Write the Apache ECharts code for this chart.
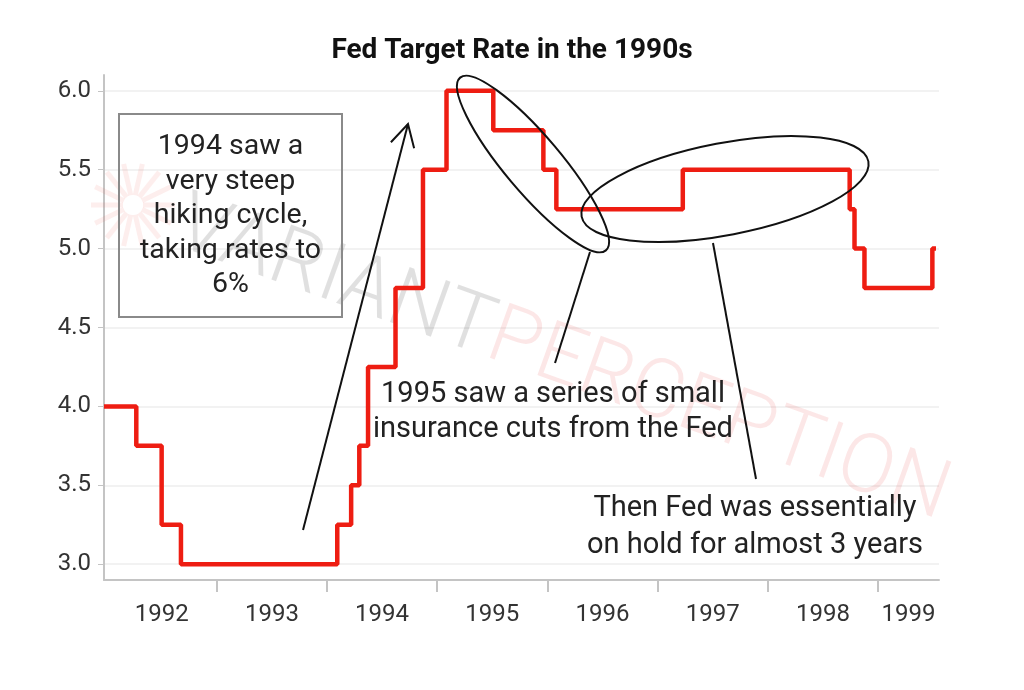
<!DOCTYPE html>
<html>
<head>
<meta charset="utf-8">
<script src="https://cdn.jsdelivr.net/npm/echarts@6/dist/echarts.min.js"></script>
<style>html,body{margin:0;padding:0;background:#fff}#c{width:1024px;height:690px}</style>
</head>
<body>
<div id="c"></div>
<script>
// ---- data ----
const changeDates = ['1991-12-24','1992-04-09','1992-07-02','1992-09-04','1994-02-04','1994-03-22','1994-04-18','1994-05-17','1994-08-16','1994-11-15','1995-02-01','1995-07-06','1995-12-19','1996-01-31','1997-03-25','1998-09-29','1998-10-15','1998-11-17','1999-06-30','1999-07-12'];
const targetRates = [4.0,3.75,3.25,3.0,3.25,3.5,3.75,4.25,4.75,5.5,6.0,5.75,5.5,5.25,5.5,5.25,5.0,4.75,5.0,5.0];
const yearLabels = ['1992','1993','1994','1995','1996','1997','1998','1999'];
const yTicks = [3.0,3.5,4.0,4.5,5.0,5.5,6.0];
const xMin = '1991-12-24', xMax = '1999-07-22';

const FONT = 'Roboto, "Noto Sans", sans-serif';
const t = s => { const p = s.split('-').map(Number); return Date.UTC(p[0], p[1]-1, p[2]); };
const yearTicks = yearLabels.slice(1).map(y => Date.UTC(+y,0,1));
const labelPos = yearLabels.map(y => {
  const a = Math.max(Date.UTC(+y,0,1), t(xMin));
  const b = Math.min(Date.UTC(+y+1,0,1), t(xMax));
  return (a + b) / 2;
});

const chart = echarts.init(document.getElementById('c'), null, {renderer: 'canvas'});

// arrow head
const tip = [408,124], tail = [303,530];
const ang = Math.atan2(tail[1]-tip[1], tail[0]-tip[0]);
const wing = d => [tip[0] + 25*Math.cos(ang+d), tip[1] + 25*Math.sin(ang+d)];

// watermark sunburst rays
const rays = [];
for (let i = 0; i < 14; i++) {
  const a = i * Math.PI / 7;
  rays.push({type:'line', z:1, silent:true,
    shape:{x1:133+10*Math.cos(a), y1:205+10*Math.sin(a), x2:133+42*Math.cos(a), y2:205+42*Math.sin(a)},
    style:{stroke:'rgba(235,90,80,0.10)', lineWidth:5}});
}

chart.setOption({
  animation: false,
  backgroundColor: '#fff',
  title: {
    text: 'Fed Target Rate in the 1990s',
    left: 'center', top: 32,
    textStyle: {fontFamily: FONT, fontSize: 28, fontWeight: 'bold', color: '#111'}
  },
  grid: {left: 104, right: 85, top: 75, bottom: 110, outerBoundsMode: 'none'},
  xAxis: {
    type: 'value',
    min: t(xMin), max: t(xMax),
    axisLine: {show: true, lineStyle: {color: '#c4c4c4', width: 2}},
    axisTick: {show: true, customValues: yearTicks, length: 12, lineStyle: {color: '#c4c4c4', width: 2}},
    axisLabel: {
      customValues: labelPos, margin: 23,
      fontFamily: FONT, fontSize: 24, color: '#333',
      formatter: v => String(new Date(v).getUTCFullYear())
    },
    splitLine: {show: false}
  },
  yAxis: {
    type: 'value',
    min: 2.9, max: 6.1,
    axisLine: {show: true, lineStyle: {color: '#c4c4c4', width: 2}},
    axisTick: {show: true, customValues: yTicks, length: 6, lineStyle: {color: '#c4c4c4'}},
    axisLabel: {customValues: yTicks, margin: 13, fontFamily: FONT, fontSize: 24, color: '#333',
      formatter: v => v.toFixed(1)},
    splitLine: {show: true, lineStyle: {color: '#eeeeee', width: 1.5}}
  },
  series: [{
    type: 'line',
    step: 'end',
    symbol: 'none',
    z: 5,
    lineStyle: {color: '#ee1d12', width: 4.5},
    data: changeDates.map((d, i) => [t(d), targetRates[i]])
  }],
  graphic: [
    ...rays,
    {type:'text', z:1, silent:true, x:562, y:362, rotation:-0.345,
      style:{text:'{a|VARIANT}{b|PERCEPTION}', align:'center', verticalAlign:'middle',
        rich:{a:{fontFamily:FONT, fontWeight:300, fontSize:82, fill:'rgba(0,0,0,0.12)'},
              b:{fontFamily:FONT, fontWeight:300, fontSize:82, fill:'rgba(230,60,55,0.12)'}}}},
    {type:'rect', z:20, shape:{x:119, y:114, width:223, height:203},
      style:{fill:'none', stroke:'#8a8a8a', lineWidth:2}},
    {type:'text', z:21, x:230.5, y:216,
      style:{text:'1994 saw a\nvery steep\nhiking cycle,\ntaking rates to\n6%', align:'center', verticalAlign:'middle',
        fontFamily:FONT, fontSize:28.5, lineHeight:34.5, fill:'#222'}},
    {type:'line', z:20, shape:{x1:tail[0], y1:tail[1], x2:tip[0], y2:tip[1]}, style:{stroke:'#111', lineWidth:2}},
    {type:'polyline', z:20, shape:{points:[wing(0.5), tip, wing(-0.5)]}, style:{stroke:'#111', lineWidth:2, fill:'none'}},
    {type:'ellipse', z:20, x:533, y:164, rotation:-0.87, shape:{cx:0, cy:0, rx:113, ry:28},
      style:{fill:'none', stroke:'#111', lineWidth:2}},
    {type:'ellipse', z:20, x:725, y:189, rotation:0.19, shape:{cx:0, cy:0, rx:146, ry:46},
      style:{fill:'none', stroke:'#111', lineWidth:2}},
    {type:'line', z:20, shape:{x1:590, y1:252, x2:555, y2:363}, style:{stroke:'#111', lineWidth:2}},
    {type:'line', z:20, shape:{x1:713, y1:243, x2:756, y2:479}, style:{stroke:'#111', lineWidth:2}},
    {type:'text', z:21, x:553, y:412,
      style:{text:'1995 saw a series of small\ninsurance cuts from the Fed', align:'center', verticalAlign:'middle',
        fontFamily:FONT, fontSize:29, lineHeight:35, fill:'#222'}},
    {type:'text', z:21, x:755, y:527,
      style:{text:'Then Fed was essentially\non hold for almost 3 years', align:'center', verticalAlign:'middle',
        fontFamily:FONT, fontSize:29, lineHeight:37, fill:'#222'}}
  ]
});
</script>
</body>
</html>
